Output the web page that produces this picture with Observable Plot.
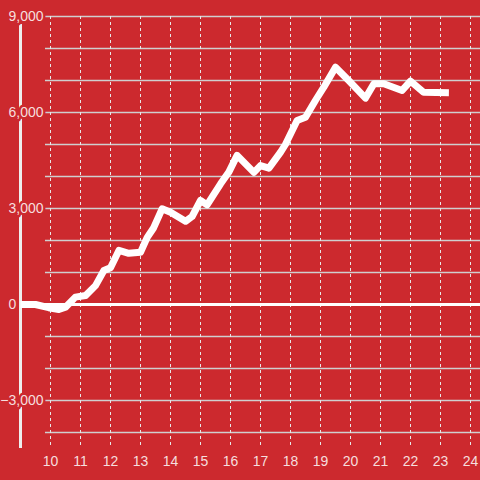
<!DOCTYPE html>
<html>
<head>
<meta charset="utf-8">
<script src="https://cdn.jsdelivr.net/npm/d3@7"></script>
<script src="https://cdn.jsdelivr.net/npm/@observablehq/plot@0.6"></script>
<style>
  html, body { margin: 0; padding: 0; background: #cc292e; }
  #chart { width: 480px; height: 480px; }
</style>
</head>
<body>
<div id="chart"></div>
<script>
// Data
const xs = [9, 9.5, 9.94, 10.28, 10.5, 10.83, 11.17, 11.5, 11.78, 12, 12.28, 12.61, 13, 13.22, 13.44, 13.72, 14, 14.5, 14.72, 15, 15.22, 15.67, 15.94, 16.22, 16.78, 17, 17.28, 17.67, 17.83, 18.22, 18.5, 18.83, 19.11, 19.5, 19.94, 20.5, 20.78, 21.11, 21.72, 22, 22.44, 23.28];
const ys = [0, 0, -100, -155, -85, 230, 280, 590, 1060, 1150, 1690, 1600, 1630, 2090, 2400, 2990, 2880, 2600, 2750, 3250, 3115, 3770, 4130, 4660, 4130, 4340, 4260, 4760, 5000, 5750, 5850, 6375, 6790, 7415, 7000, 6450, 6900, 6900, 6690, 6980, 6630, 6620];
const xTicks = [10, 11, 12, 13, 14, 15, 16, 17, 18, 19, 20, 21, 22, 23, 24];
const yTicks = [-3000, 3000, 6000, 9000];
const yZeroTick = [0];
const yGrid = [-4000, -3000, -2000, -1000, 1000, 2000, 3000, 4000, 5000, 6000, 7000, 8000, 9000];

const data = xs.map((x, i) => ({x, y: ys[i]}));
const bg = "#cc292e";
const fmt = d3.format(",");

const chart = Plot.plot({
  width: 480,
  height: 480,
  margin: 0,
  style: {background: bg, fontFamily: "'Liberation Sans', Arial, sans-serif"},
  x: {domain: [9, 24], range: [20, 470], axis: null},
  y: {domain: [-3000, 9000], range: [400, 16], axis: null},
  marks: [
    Plot.ruleY(yGrid, {x1: 9.833, x2: 24.4, stroke: "#cfcfcf", strokeWidth: 1.3}),
    Plot.ruleX(xTicks, {y1: 9000, y2: -4500, stroke: "#e8e8e8", strokeWidth: 1, strokeDasharray: "3,3"}),
    Plot.ruleY([0], {x1: 9, x2: 24.4, stroke: "#ffffff", strokeWidth: 3}),
    Plot.ruleX([9], {y1: -4500, y2: 8750, stroke: "#eeeeee", strokeWidth: 3}),
    Plot.text(yZeroTick, {x: 8.6, y: d => d, text: d => fmt(d), textAnchor: "start", fill: "#f6dede", fontSize: 14}),
    Plot.line(data, {x: "x", y: "y", stroke: "#ffffff", strokeWidth: 7, strokeLinejoin: "round", strokeLinecap: "butt"}),
    Plot.text(yTicks, {x: 9.767, y: d => d, text: d => fmt(d), textAnchor: "end", fill: "#f6dede", stroke: bg, strokeWidth: 5, fontSize: 14}),
    Plot.text(xTicks, {x: d => d, y: -4922, text: d => String(d), textAnchor: "middle", fill: "#f6dede", fontSize: 14})
  ]
});
document.getElementById("chart").append(chart);
</script>
</body>
</html>
